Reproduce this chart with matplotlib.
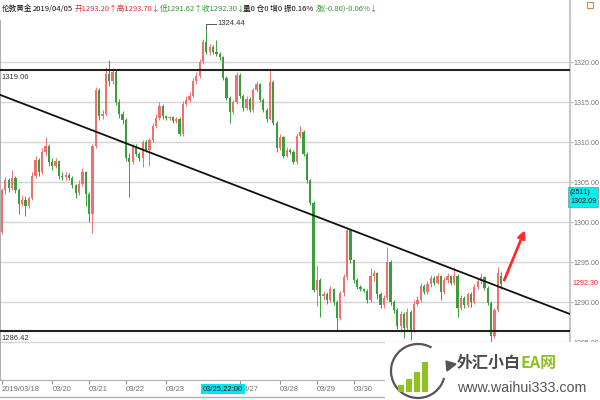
import numpy as np
import matplotlib
matplotlib.use('Agg')
import matplotlib.pyplot as plt
from matplotlib.patches import Rectangle, Arc, Polygon
from matplotlib.lines import Line2D

plt.rcParams['font.family'] = ['Liberation Sans', 'Noto Sans CJK SC', 'DejaVu Sans']
cjk = ['Noto Sans CJK SC', 'DejaVu Sans']

# K线数据 (开, 收, 高, 低)
opens = [1298.8, 1304.0, 1305.2, 1304.2, 1305.5, 1304.0, 1302.3, 1302.8, 1302.0, 1303.0,
         1305.8, 1307.8, 1306.3, 1308.8, 1309.5, 1307.5, 1307.0, 1307.6, 1305.8, 1305.6,
         1305.9, 1305.5, 1304.6, 1303.6, 1304.8, 1306.2, 1303.5, 1301.0, 1309.5, 1316.5,
         1313.2, 1313.5, 1318.5, 1317.6, 1318.8, 1315.0, 1313.5, 1312.7, 1308.0, 1307.5,
         1309.4, 1308.5, 1308.0, 1310.0, 1309.0, 1310.2, 1312.0, 1313.0, 1314.5, 1313.2,
         1313.0, 1313.1, 1312.6, 1312.9, 1311.0, 1314.8, 1315.3, 1315.8, 1317.6, 1318.2,
         1320.0, 1322.5, 1321.2, 1321.9, 1321.3, 1321.0, 1320.6, 1318.0, 1315.5, 1313.8,
         1315.0, 1318.4, 1315.8, 1314.2, 1315.4, 1314.0, 1316.5, 1317.2, 1315.3, 1314.0,
         1312.9, 1317.5, 1312.4, 1309.2, 1310.6, 1308.3, 1309.0, 1308.8, 1307.5, 1310.8,
         1311.3, 1308.5, 1305.2, 1302.4, 1291.5, 1292.8, 1290.8, 1291.0, 1290.2, 1291.6,
         1290.0, 1288.0, 1291.1, 1293.1, 1299.0, 1295.2, 1292.7, 1291.9, 1291.6, 1291.4,
         1290.2, 1293.3, 1293.6, 1291.0, 1289.6, 1290.5, 1295.0, 1290.0, 1289.0, 1287.0,
         1288.5, 1286.8, 1288.8, 1286.4, 1289.8, 1290.3, 1292.0, 1291.3, 1292.2, 1293.0,
         1292.4, 1293.2, 1291.3, 1292.7, 1293.2, 1292.4, 1293.3, 1289.2, 1290.5, 1289.6,
         1291.0, 1290.0, 1291.9, 1292.6, 1293.1, 1291.8, 1289.9, 1285.8, 1289.0, 1293.2]
closes = [1304.0, 1305.2, 1304.2, 1305.5, 1304.0, 1302.3, 1302.8, 1302.0, 1303.0, 1305.8,
          1307.8, 1306.3, 1308.8, 1309.5, 1307.5, 1307.0, 1307.6, 1305.8, 1305.6, 1305.9,
          1305.5, 1304.6, 1303.6, 1304.8, 1306.2, 1303.5, 1301.0, 1309.5, 1316.5, 1313.2,
          1313.5, 1318.5, 1317.6, 1318.8, 1315.0, 1313.5, 1312.7, 1308.0, 1307.5, 1309.4,
          1308.5, 1308.0, 1310.0, 1309.0, 1310.2, 1312.0, 1313.0, 1314.5, 1313.2, 1313.0,
          1313.1, 1312.6, 1312.9, 1311.0, 1314.8, 1315.3, 1315.8, 1317.6, 1318.2, 1320.0,
          1322.5, 1321.2, 1321.9, 1321.3, 1321.0, 1320.6, 1318.0, 1315.5, 1313.8, 1315.0,
          1318.4, 1315.8, 1314.2, 1315.4, 1314.0, 1316.5, 1317.2, 1315.3, 1314.0, 1312.9,
          1317.5, 1312.4, 1309.2, 1310.6, 1308.3, 1309.0, 1308.8, 1307.5, 1310.8, 1311.3,
          1308.5, 1305.2, 1302.4, 1291.5, 1292.8, 1290.8, 1291.0, 1290.2, 1291.6, 1290.0,
          1288.0, 1291.1, 1293.1, 1299.0, 1295.2, 1292.7, 1291.9, 1291.6, 1291.4, 1290.2,
          1293.3, 1293.6, 1291.0, 1289.6, 1290.5, 1295.0, 1290.0, 1289.0, 1287.0, 1288.5,
          1286.8, 1288.8, 1286.4, 1289.8, 1290.3, 1292.0, 1291.3, 1292.2, 1293.0, 1292.4,
          1293.2, 1291.3, 1292.7, 1293.2, 1292.4, 1293.3, 1289.2, 1290.5, 1289.6, 1291.0,
          1290.0, 1291.9, 1292.6, 1293.1, 1291.8, 1289.9, 1285.8, 1289.0, 1293.6, 1292.3]
highs = [1304.3, 1305.6, 1305.5, 1306.5, 1305.8, 1304.3, 1303.4, 1303.2, 1303.3, 1306.2,
         1308.3, 1308.0, 1309.2, 1310.6, 1309.8, 1308.0, 1308.0, 1307.8, 1306.2, 1306.3,
         1306.1, 1305.7, 1304.8, 1305.2, 1306.8, 1306.4, 1303.8, 1309.8, 1316.9, 1316.8,
         1314.0, 1319.4, 1320.2, 1319.3, 1319.0, 1315.4, 1313.9, 1313.0, 1308.6, 1309.8,
         1309.7, 1308.8, 1310.3, 1310.2, 1310.5, 1312.4, 1313.5, 1315.0, 1314.7, 1313.4,
         1313.3, 1313.3, 1313.1, 1313.1, 1315.1, 1315.7, 1316.2, 1318.0, 1318.7, 1320.4,
         1322.9, 1324.44, 1322.3, 1322.1, 1322.8, 1321.3, 1320.8, 1318.2, 1315.7, 1315.3,
         1318.7, 1318.6, 1316.0, 1315.8, 1315.6, 1316.8, 1317.6, 1317.4, 1315.5, 1314.2,
         1319.0, 1317.7, 1312.6, 1311.0, 1310.8, 1309.4, 1309.2, 1309.0, 1311.1, 1312.0,
         1311.5, 1308.7, 1305.4, 1302.6, 1294.6, 1293.0, 1291.4, 1291.2, 1292.0, 1291.8,
         1290.2, 1291.4, 1293.5, 1299.2, 1299.1, 1295.4, 1293.0, 1292.1, 1291.8, 1291.6,
         1294.3, 1294.0, 1293.8, 1291.2, 1290.9, 1296.9, 1295.2, 1290.3, 1289.3, 1288.9,
         1288.8, 1289.2, 1289.0, 1290.2, 1290.7, 1292.4, 1292.3, 1292.6, 1293.4, 1293.3,
         1293.6, 1293.4, 1293.1, 1293.6, 1293.4, 1294.4, 1293.5, 1290.9, 1290.7, 1291.3,
         1291.2, 1292.2, 1293.0, 1293.6, 1293.3, 1292.0, 1290.1, 1289.3, 1294.4, 1293.7]
lows = [1298.5, 1303.5, 1303.8, 1304.0, 1303.6, 1301.0, 1302.0, 1300.8, 1301.7, 1302.8,
        1305.5, 1305.8, 1306.0, 1308.3, 1307.0, 1306.5, 1306.7, 1305.4, 1305.2, 1305.3,
        1305.2, 1304.2, 1303.0, 1303.4, 1304.5, 1302.0, 1300.0, 1298.6, 1309.2, 1312.8,
        1312.9, 1313.2, 1317.0, 1317.3, 1314.6, 1313.0, 1312.2, 1307.6, 1303.1, 1307.2,
        1308.2, 1307.6, 1306.9, 1308.7, 1307.0, 1310.0, 1311.7, 1312.8, 1312.9, 1312.8,
        1312.8, 1312.4, 1312.4, 1310.7, 1310.8, 1314.5, 1315.0, 1315.6, 1317.3, 1318.0,
        1319.8, 1321.0, 1320.9, 1321.0, 1320.8, 1320.3, 1317.7, 1315.2, 1312.4, 1313.5,
        1314.8, 1315.5, 1313.9, 1314.0, 1313.7, 1313.8, 1316.2, 1315.0, 1313.7, 1312.5,
        1312.7, 1312.1, 1308.8, 1309.0, 1308.0, 1308.1, 1308.5, 1307.2, 1307.3, 1310.5,
        1308.2, 1304.9, 1302.1, 1291.2, 1289.5, 1288.1, 1290.3, 1289.8, 1290.0, 1289.6,
        1286.5, 1287.7, 1290.8, 1292.8, 1294.9, 1292.4, 1291.6, 1291.4, 1291.2, 1289.9,
        1290.0, 1292.6, 1290.4, 1289.2, 1289.3, 1290.2, 1289.6, 1288.6, 1286.6, 1286.3,
        1285.5, 1286.5, 1285.2, 1286.2, 1289.5, 1290.0, 1291.0, 1291.0, 1291.9, 1292.1,
        1292.2, 1290.3, 1291.0, 1292.4, 1292.1, 1292.1, 1288.1, 1289.0, 1289.3, 1289.4,
        1289.4, 1289.8, 1291.6, 1292.3, 1291.5, 1289.6, 1284.7, 1285.5, 1288.7, 1291.62]

date_ticks = [0, 15, 26, 37, 49, 71, 83, 94, 105]
date_labels = ['2019/03/18', '03/20', '03/21', '03/22', '03/23', '03/27', '03/28', '03/29', '03/30']
cursor_bar = 60
cursor_label = '03/25,22:00'

price_ticks = [1285, 1290, 1295, 1300, 1305, 1310, 1315, 1320]
resistance = 1319.06
support = 1286.42
peak_bar, peak_price = 61, 1324.44
trend_x = [-0.6, 169.5]
trend_y = [1315.9, 1288.5]
arrow_start = [149.6, 1292.4]
arrow_end = [156.4, 1299.3]
last_price = 1292.30
cursor_price = 1302.09
cursor_count = 2511

UP = '#f07070'
DOWN = '#3a9f3a'

fig = plt.figure(figsize=(6, 4), dpi=100)
ax = fig.add_axes([0, 0.05, 0.95, 0.90])

o = np.array(opens); c = np.array(closes)
h = np.array(highs); l = np.array(lows)
x = np.arange(len(o))
up = c >= o
colors = np.where(up, UP, DOWN)

ax.vlines(x, l, h, colors=colors, lw=0.7, zorder=3)
body = np.maximum(np.abs(c - o), 0.12)
ax.bar(x, body, 0.68, bottom=np.minimum(o, c), color=colors, lw=0, zorder=3)

# 网格与水平线
for p in price_ticks:
    ax.axhline(p, color='#d4d4d4', lw=1, zorder=1)
ax.axhline(resistance, color='#222222', lw=1.5, zorder=4)
ax.axhline(support, color='#222222', lw=1.5, zorder=4)
ax.plot(trend_x, trend_y, color='#111111', lw=1.3, zorder=4)

ax.text(-0.2, resistance - 0.5, '%.2f' % resistance, fontsize=5.5, color='#333333', va='top', ha='left')
ax.text(-0.2, support - 0.5, '%.2f' % support, fontsize=5.5, color='#333333', va='top', ha='left')

# 最高点标注
ax.plot([peak_bar, peak_bar, peak_bar + 3], [peak_price - 0.2, peak_price + 0.35, peak_price + 0.35],
        color='#555555', lw=0.7, zorder=4)
ax.text(peak_bar + 3.3, peak_price + 0.35, '%.2f' % peak_price, fontsize=5.5, color='#333333', va='center')

ax.annotate('', xy=arrow_end, xytext=arrow_start,
            arrowprops=dict(arrowstyle='-|>', color='#ff2a2a', lw=2, mutation_scale=11), zorder=5)

ax.set_xlim(-0.6, 169.55)
ax.set_ylim(1280.25, 1325.25)

ax.yaxis.tick_right()
ax.set_yticks(price_ticks)
ax.set_yticklabels(['%.2f' % p for p in price_ticks])
ax.tick_params(axis='y', labelsize=5.1, labelcolor='#777777', color='#bbbbbb', length=2, pad=0.5)
ax.set_xticks(date_ticks)
ax.set_xticklabels(date_labels, ha='left')
ax.tick_params(axis='x', labelsize=5.5, labelcolor='#707070', color='#999999', length=3, pad=1.5)

ax.spines['top'].set_visible(False)
ax.spines['right'].set_color('#c8c8c8')
ax.spines['right'].set_linewidth(1.5)
ax.spines['bottom'].set_color('#b0b0b0')
ax.spines['left'].set_color('#b0b0b0')

ax.text(1.0, cursor_price + 1.0, '(%d)\n%.2f' % (cursor_count, cursor_price), transform=ax.get_yaxis_transform(),
        fontsize=5.2, color='#111111', ha='left', va='center', linespacing=1.4,
        bbox=dict(boxstyle='square,pad=0.3', facecolor='#00f0f0', edgecolor='#888888', lw=0.5),
        clip_on=False, zorder=6)
ax.text(1.004, last_price, '%.2f' % last_price, transform=ax.get_yaxis_transform(),
        fontsize=5.1, color='#ff2020', ha='left', va='center', clip_on=False)
ax.text(cursor_bar, -0.025, cursor_label, transform=ax.get_xaxis_transform(), fontsize=5.5,
        color='#111111', ha='left', va='center',
        bbox=dict(boxstyle='square,pad=0.2', facecolor='#00e8f0', edgecolor='none'), clip_on=False, zorder=6)

# 顶部和水印层 (像素坐标)
top = fig.add_axes([0, 0, 1, 1])
top.set_xlim(0, 600)
top.set_ylim(400, 0)
top.axis('off')
top.patch.set_visible(False)

top.add_line(Line2D([0, 570], [397, 397], color='#b0b0b0', lw=1))
top.add_line(Line2D([570, 570], [0, 20], color='#c8c8c8', lw=1.5))
top.add_patch(Rectangle((587, 2), 6, 6, fill=False, edgecolor='#f08030', lw=0.8))

header = [
    (2, '伦敦黄金', '#111111'),
    (33, '2019/04/05', '#111111'),
    (75, '开1293.20↑高1293.70↓', '#ee2a2a'),
    (160, '低1291.62↑收1292.30↓', '#2a9a2a'),
    (243, '量0 仓0 增0 振0.16%', '#111111'),
    (316, '涨(-0.80)-0.06%↓', '#2a9a2a'),
]
for hx, txt, col in header:
    top.text(hx, 9, txt, fontsize=5.5, color=col, va='center', ha='left', family=cjk)

# 水印
top.add_patch(Rectangle((385, 342), 215, 58, facecolor='white', edgecolor='none', zorder=7))
top.add_patch(Arc((418, 371), 54, 54, theta1=15, theta2=300, color='#555555', lw=1.6, zorder=8))
top.add_patch(Polygon([[446, 361], [456, 364], [447, 371]], closed=True, color='#555555', zorder=8))
for bx, by in [(398, 385), (406, 379), (414, 372), (422, 362)]:
    top.add_patch(Rectangle((bx, by), 5.5, 392 - by, facecolor='#8dc21f', edgecolor='none', zorder=8))
top.text(457, 363, '外汇小白', fontsize=11.5, fontweight='bold', color='#4a4a4a', va='center',
         ha='left', family=cjk, zorder=9)
top.text(521, 363, 'EA网', fontsize=11.5, fontweight='bold', color='#8dc21f', va='center',
         ha='left', family=cjk, zorder=9)
top.text(457, 388, 'www.waihui333.com', fontsize=10.3, color='#555555', va='center', ha='left', zorder=9)

fig.savefig('out.png', dpi=100, facecolor='white')
